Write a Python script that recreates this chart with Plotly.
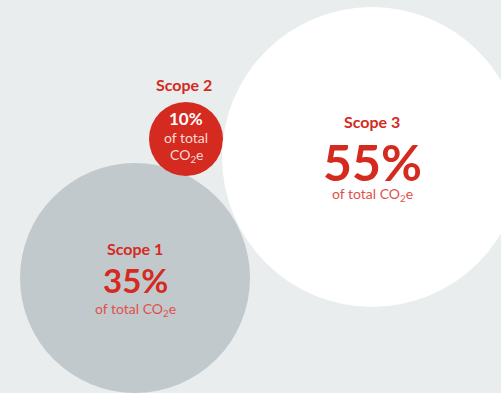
import plotly.graph_objects as go

# Data
scopes = ["Scope 1", "Scope 2", "Scope 3"]
shares = [35, 10, 55]
unit_label = "of total CO<sub>2</sub>e"

# Layout (pixel-like data coordinates)
W, H = 501, 393
cx = [135, 186, 372]
cy = [278, 139, 157]
rad = [115, 37, 150]
fills = ["#c2c9cd", "#d42a1f", "#ffffff"]
RED = "#d42a1f"
LIGHT_RED = "#e0504a"
FONT = "Lato"

fig = go.Figure()
fig.add_trace(go.Scatter(x=[0, W], y=[0, H], mode="markers",
                         marker=dict(opacity=0), hoverinfo="skip", showlegend=False))

shapes = []
for x, y, r, c in zip(cx, cy, rad, fills):
    shapes.append(dict(type="circle", xref="x", yref="y",
                       x0=x - r, x1=x + r, y0=y - r, y1=y + r,
                       fillcolor=c, line=dict(width=0), layer="below"))

ann = []
# Scope 1 (grey)
ann.append(dict(x=cx[0], y=248, text=f"<b>{scopes[0]}</b>", font=dict(size=16, color=RED, family=FONT)))
ann.append(dict(x=cx[0], y=280, text=f"<b>{shares[0]}%</b>", font=dict(size=33, color=RED, family=FONT)))
ann.append(dict(x=cx[0], y=309, text=unit_label, font=dict(size=14, color=LIGHT_RED, family=FONT)))
# Scope 2 (red, label above)
ann.append(dict(x=184, y=84, text=f"<b>{scopes[1]}</b>", font=dict(size=16, color=RED, family=FONT)))
ann.append(dict(x=cx[1], y=118, text=f"<b>{shares[1]}%</b>", font=dict(size=17, color="#ffffff", family=FONT)))
ann.append(dict(x=cx[1], y=137, text="of total", font=dict(size=14, color="#f8dad6", family=FONT)))
ann.append(dict(x=cx[1], y=155, text="CO<sub>2</sub>e", font=dict(size=14, color="#f8dad6", family=FONT)))
# Scope 3 (white)
ann.append(dict(x=cx[2], y=121, text=f"<b>{scopes[2]}</b>", font=dict(size=16, color=RED, family=FONT)))
ann.append(dict(x=cx[2], y=162, text=f"<b>{shares[2]}%</b>", font=dict(size=50, color=RED, family=FONT)))
ann.append(dict(x=cx[2], y=194, text=unit_label, font=dict(size=14, color=LIGHT_RED, family=FONT)))
for a in ann:
    a.update(xref="x", yref="y", showarrow=False, xanchor="center", yanchor="middle", borderpad=0)

fig.update_layout(
    width=W, height=H, margin=dict(l=0, r=0, t=0, b=0),
    paper_bgcolor="#e9eded", plot_bgcolor="#e9eded",
    shapes=shapes, annotations=ann, showlegend=False,
    xaxis=dict(range=[0, W], visible=False, fixedrange=True),
    yaxis=dict(range=[H, 0], visible=False, fixedrange=True),
)
fig.write_html("out.html")
